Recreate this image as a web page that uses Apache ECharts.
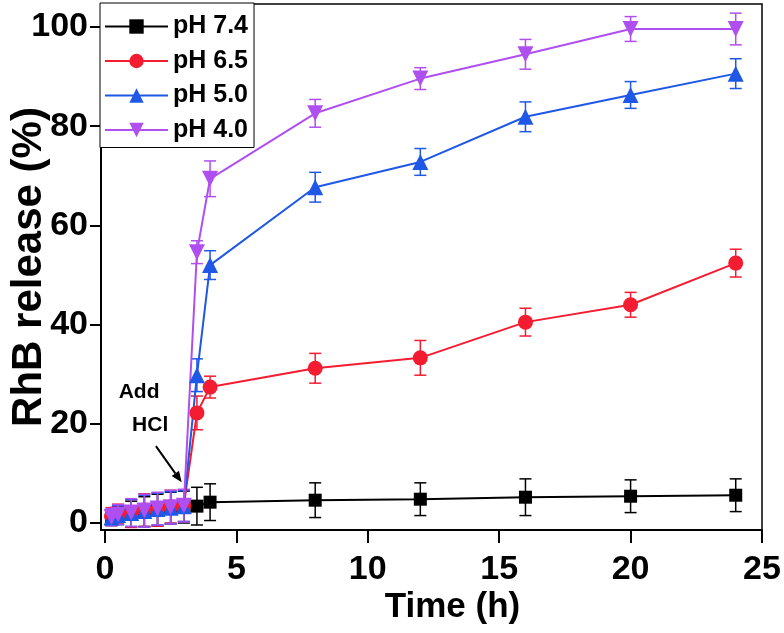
<!DOCTYPE html>
<html>
<head>
<meta charset="utf-8">
<script src="https://cdn.jsdelivr.net/npm/echarts@6/dist/echarts.min.js"></script>
<style>
html,body{margin:0;padding:0;background:#fff;}
#main{width:784px;height:633px;}
</style>
</head>
<body>
<div id="main"></div>
<script>
// release time points (h)
var times = [0.25, 0.5, 1, 1.5, 2, 2.5, 3, 3.5, 4, 8, 12, 16, 20, 24];

// RhB release (%) per pH
var ph74 = [1.0, 1.5, 1.8, 2.3, 2.6, 3.0, 3.2, 3.4, 4.2, 4.6, 4.8, 5.2, 5.4, 5.6];
var ph65 = [1.3, 1.8, 1.9, 2.6, 2.7, 3.3, 3.5, 22.2, 27.4, 31.2, 33.3, 40.5, 44.0, 52.4];
var ph50 = [1.1, 1.6, 2.0, 2.4, 2.8, 3.1, 3.4, 29.8, 52.0, 67.7, 72.8, 81.9, 86.3, 90.6];
var ph40 = [1.2, 1.7, 2.1, 2.5, 2.9, 3.2, 3.5, 54.6, 69.4, 82.6, 89.6, 94.5, 99.6, 99.6];

// error bars (+/-)
var err74 = [1.5, 1.8, 2.6, 3.0, 3.2, 3.2, 3.2, 3.8, 3.7, 3.5, 3.3, 3.7, 3.3, 3.3];
var err65 = [1.8, 2.0, 2.8, 3.3, 3.3, 3.3, 3.2, 3.4, 2.2, 3.0, 3.5, 2.8, 2.5, 2.8];
var err50 = [1.6, 1.9, 2.7, 3.2, 3.2, 3.2, 3.1, 3.3, 2.9, 3.0, 2.7, 3.0, 2.7, 3.0];
var err40 = [1.7, 2.0, 2.8, 3.3, 3.3, 3.4, 3.3, 2.3, 3.6, 2.8, 2.2, 3.0, 2.5, 3.2];

var seriesNames = ['pH 7.4', 'pH 6.5', 'pH 5.0', 'pH 4.0'];
var xTicks = [0, 5, 10, 15, 20, 25];
var yTicks = [0, 20, 40, 60, 80, 100];

var FONT = "'Liberation Sans', Arial, sans-serif";

function pts(vals) {
	var out = [];
	for (var i = 0; i < times.length; i++) {
		out.push([times[i], vals[i]]);
	}
	return out;
}

function bars(vals, errs) {
	var out = [];
	for (var i = 0; i < times.length; i++) {
		out.push([times[i], vals[i] - errs[i], vals[i] + errs[i]]);
	}
	return out;
}

function errSeries(name, vals, errs, color) {
	return {
		name : name + ' err',
		type : 'custom',
		data : bars(vals, errs),
		encode : { x : 0, y : [1, 2] },
		silent : true,
		renderItem : function(params, api) {
			var x = api.value(0);
			var lo = api.coord([x, api.value(1)]);
			var hi = api.coord([x, api.value(2)]);
			var half = 6;
			var st = { stroke : color, lineWidth : 1.5, fill : null };
			return {
				type : 'group',
				children : [
					{ type : 'line', shape : { x1 : lo[0], y1 : lo[1], x2 : hi[0], y2 : hi[1] }, style : st },
					{ type : 'line', shape : { x1 : lo[0] - half, y1 : lo[1], x2 : lo[0] + half, y2 : lo[1] }, style : st },
					{ type : 'line', shape : { x1 : hi[0] - half, y1 : hi[1], x2 : hi[0] + half, y2 : hi[1] }, style : st }
				]
			};
		}
	};
}

function lineSeries(name, vals, color, symbol, size) {
	return {
		name : name,
		type : 'line',
		data : pts(vals),
		symbol : symbol,
		symbolSize : size,
		showAllSymbol : true,
		lineStyle : { color : color, width : 2 },
		itemStyle : { color : color, borderWidth : 0 },
		emphasis : { disabled : true },
		animation : false
	};
}

var colors = ['#000000', '#f41c30', '#1f57e6', '#b04ff0'];
var downTri = 'path://M0,0 L10,0 L5,9 Z';

var chart = echarts.init(document.getElementById('main'));

var option = {
	animation : false,
	grid : {
		left : 101,
		right : 22,
		top : 4,
		bottom : 103,
		containLabel : false,
		outerBoundsMode : 'none',
		show : true,
		borderColor : '#000',
		borderWidth : 1.5,
		backgroundColor : 'transparent'
	},
	legend : {
		data : seriesNames,
		orient : 'vertical',
		left : 100,
		top : 3,
		itemWidth : 63,
		itemHeight : 18,
		itemGap : 9.5,
		padding : [11, 6, 5, 4],
		borderColor : '#000',
		borderWidth : 1,
		backgroundColor : '#fff',
		textStyle : {
			fontFamily : FONT,
			fontWeight : 'bold',
			fontSize : 25,
			color : '#000',
			lineHeight : 25
		}
	},
	xAxis : {
		type : 'value',
		min : -0.15,
		max : 25,
		name : 'Time (h)',
		nameLocation : 'middle',
		nameGap : 60,
		nameMoveOverlap : false,
		nameTextStyle : { fontFamily : FONT, fontWeight : 'bold', fontSize : 35, color : '#000', padding : [0, 0, 0, 42] },
		axisLine : { onZero : false, lineStyle : { color : '#000', width : 2 } },
		axisTick : { show : true, length : 13, customValues : xTicks, lineStyle : { color : '#000', width : 2 } },
		axisLabel : { customValues : xTicks, margin : 23, fontFamily : FONT, fontWeight : 'bold', fontSize : 34, color : '#000' },
		splitLine : { show : false }
	},
	yAxis : {
		type : 'value',
		min : -1.41,
		max : 104.64,
		name : 'RhB release (%)',
		nameLocation : 'middle',
		nameGap : 51,
		nameMoveOverlap : false,
		nameTextStyle : { fontFamily : FONT, fontWeight : 'bold', fontSize : 42, color : '#000' },
		axisLine : { onZero : false, lineStyle : { color : '#000', width : 2 } },
		axisTick : { show : true, length : 11, customValues : yTicks, lineStyle : { color : '#000', width : 2 } },
		axisLabel : { customValues : yTicks, margin : 13, fontFamily : FONT, fontWeight : 'bold', fontSize : 34, color : '#000' },
		splitLine : { show : false }
	},
	series : [
		errSeries(seriesNames[0], ph74, err74, colors[0]),
		lineSeries(seriesNames[0], ph74, colors[0], 'rect', 13),
		errSeries(seriesNames[1], ph65, err65, colors[1]),
		lineSeries(seriesNames[1], ph65, colors[1], 'circle', 15),
		errSeries(seriesNames[2], ph50, err50, colors[2]),
		lineSeries(seriesNames[2], ph50, colors[2], 'triangle', 16),
		errSeries(seriesNames[3], ph40, err40, colors[3]),
		lineSeries(seriesNames[3], ph40, colors[3], downTri, 16)
	]
};

chart.setOption(option);

// "Add HCl" note and arrow, placed in data coordinates
var a1 = chart.convertToPixel({ gridIndex : 0 }, [1.94, 15.5]);
var a2 = chart.convertToPixel({ gridIndex : 0 }, [2.92, 8.2]);
var t1 = chart.convertToPixel({ gridIndex : 0 }, [1.3, 26.4]);
var t2 = chart.convertToPixel({ gridIndex : 0 }, [1.72, 19.7]);
var dx = a2[0] - a1[0], dy = a2[1] - a1[1];
var len = Math.sqrt(dx * dx + dy * dy);
var ux = dx / len, uy = dy / len;
var headL = 11, headW = 4.5;
var bx = a2[0] - ux * headL, by = a2[1] - uy * headL;

chart.setOption({
	graphic : [
		{ type : 'line', shape : { x1 : a1[0], y1 : a1[1], x2 : bx, y2 : by }, style : { stroke : '#000', lineWidth : 2 }, z : 100 },
		{ type : 'polygon', shape : { points : [[a2[0], a2[1]], [bx - uy * headW, by + ux * headW], [bx + uy * headW, by - ux * headW]] }, style : { fill : '#000' }, z : 100 },
		{ type : 'text', x : t1[0], y : t1[1], style : { text : 'Add', fontFamily : FONT, fontWeight : 'bold', fontSize : 21, fill : '#000', align : 'center', verticalAlign : 'middle' }, z : 100 },
		{ type : 'text', x : t2[0], y : t2[1], style : { text : 'HCl', fontFamily : FONT, fontWeight : 'bold', fontSize : 21, fill : '#000', align : 'center', verticalAlign : 'middle' }, z : 100 }
	]
});
</script>
</body>
</html>
